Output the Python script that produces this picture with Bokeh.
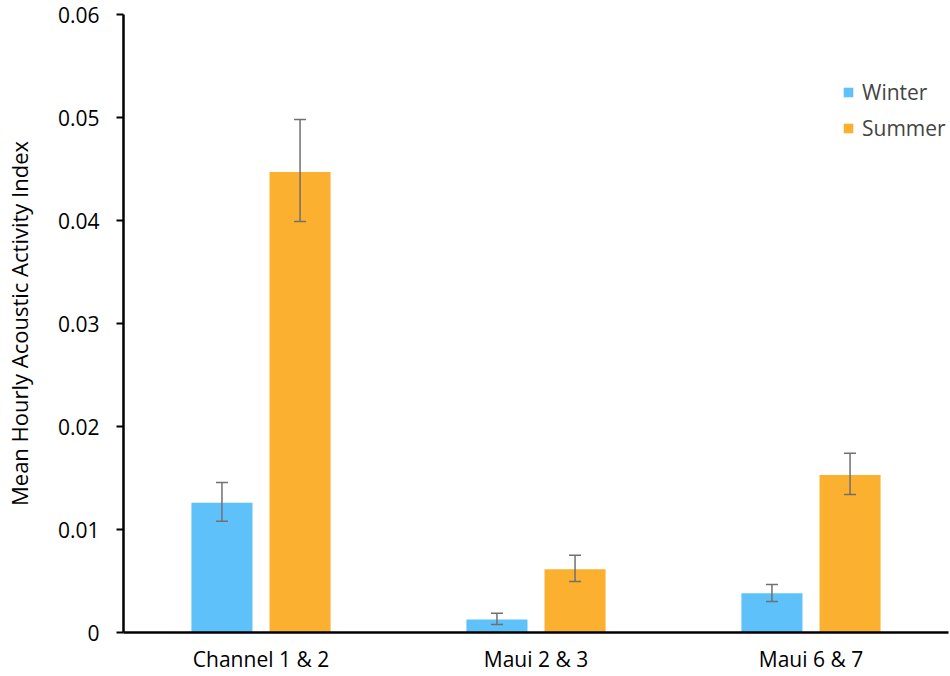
from bokeh.plotting import figure
from bokeh.models import ColumnDataSource, FactorRange, Whisker, Legend, LegendItem, FixedTicker
from bokeh.transform import dodge
from bokeh.embed import file_html
from bokeh.resources import INLINE

sites = ["Channel 1 & 2", "Maui 2 & 3", "Maui 6 & 7"]
winter = [0.0126, 0.00126, 0.0038]
winter_lo = [0.0108, 0.00078, 0.0030]
winter_hi = [0.01456, 0.00187, 0.00466]
summer = [0.0447, 0.00615, 0.0153]
summer_lo = [0.0399, 0.00495, 0.0134]
summer_hi = [0.0498, 0.0075, 0.0174]
y_ticks = [0, 0.01, 0.02, 0.03, 0.04, 0.05, 0.06]
y_tick_labels = ["0", "0.01", "0.02", "0.03", "0.04", "0.05", "0.06"]

FONT = "Open Sans"
src = ColumnDataSource(dict(site=sites, winter=winter, wlo=winter_lo, whi=winter_hi,
                            summer=summer, slo=summer_lo, shi=summer_hi))

p = figure(x_range=FactorRange(*sites), y_range=(0, 0.06), width=950, height=676,
           output_backend="svg", toolbar_location=None,
           min_border_left=122, min_border_top=14, min_border_right=2, min_border_bottom=44)
p.outline_line_color = None
p.xgrid.grid_line_color = None
p.ygrid.grid_line_color = None

off = 0.142
bw = 0.222
r_w = p.vbar(x=dodge("site", -off, range=p.x_range), top="winter", width=bw, source=src,
             fill_color="#5ec1f9", line_color=None)
r_s = p.vbar(x=dodge("site", off, range=p.x_range), top="summer", width=bw, source=src,
             fill_color="#fbb02f", line_color=None)

for key, lo, hi in [(-off, "wlo", "whi"), (off, "slo", "shi")]:
    w = Whisker(base=dodge("site", key, range=p.x_range), lower=lo, upper=hi, source=src,
                line_color="#707070", line_width=1.5, level="annotation")
    w.upper_head.size = 12
    w.lower_head.size = 12
    w.upper_head.line_color = "#707070"
    w.lower_head.line_color = "#707070"
    w.upper_head.line_width = 1.5
    w.lower_head.line_width = 1.5
    p.add_layout(w)

p.yaxis.ticker = FixedTicker(ticks=y_ticks)
p.yaxis.major_label_overrides = {t: l for t, l in zip(y_ticks, y_tick_labels)}
p.yaxis.minor_tick_line_color = None
p.yaxis.major_tick_in = 0
p.yaxis.major_tick_out = 7
p.yaxis.major_tick_line_width = 2
p.yaxis.axis_line_width = 2.5
p.yaxis.axis_line_color = "black"
p.yaxis.major_label_text_font = FONT
p.yaxis.major_label_text_font_size = "21px"
p.yaxis.major_label_text_color = "black"
p.yaxis.major_label_standoff = 17
p.yaxis.axis_label = "Mean Hourly Acoustic Activity Index"
p.yaxis.axis_label_text_font = FONT
p.yaxis.axis_label_text_font_size = "22px"
p.yaxis.axis_label_text_font_style = "normal"
p.yaxis.axis_label_text_color = "black"
p.yaxis.axis_label_standoff = 21

p.xaxis.major_tick_line_color = None
p.xaxis.minor_tick_line_color = None
p.xaxis.axis_line_width = 2.5
p.xaxis.axis_line_color = "black"
p.xaxis.major_label_text_font = FONT
p.xaxis.major_label_text_font_size = "21px"
p.xaxis.major_label_text_color = "black"
p.xaxis.major_label_standoff = 6

legend = Legend(items=[LegendItem(label="Winter", renderers=[r_w]),
                       LegendItem(label="Summer", renderers=[r_s])],
                location=(719, 490), border_line_color=None, background_fill_alpha=0,
                label_text_font=FONT, label_text_font_size="21px", glyph_width=12,
                glyph_height=12, spacing=8, label_standoff=8)
p.add_layout(legend)

open("out.html", "w").write(file_html(p, INLINE))
